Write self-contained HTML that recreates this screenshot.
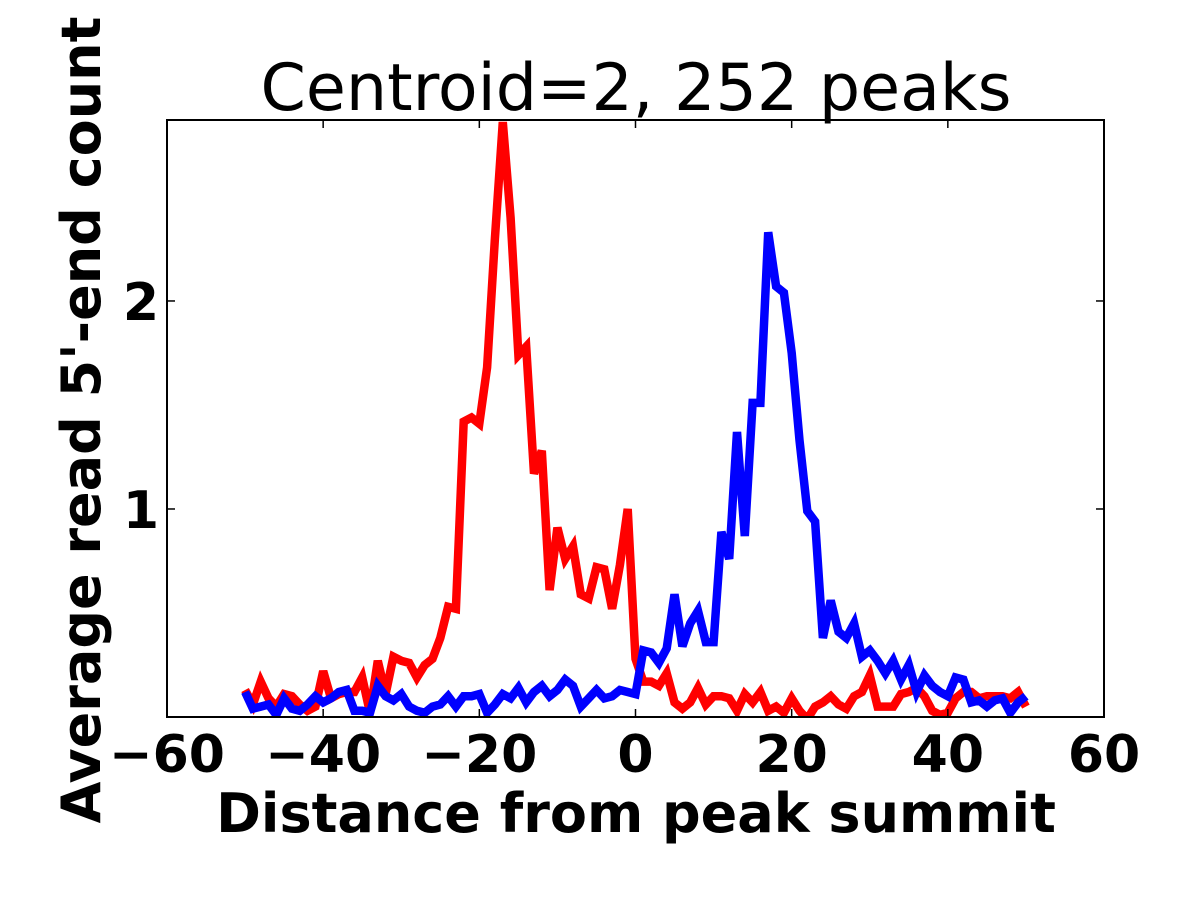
<!DOCTYPE html>
<html><head><meta charset="utf-8"><style>
html,body{margin:0;padding:0;background:#fff;}
svg{display:block;font-family:"DejaVu Sans","Liberation Sans",sans-serif;}
</style></head><body>
<svg id="chart" width="1200" height="900" viewBox="0 0 1200 900" xmlns="http://www.w3.org/2000/svg">
<text x="636" y="110" text-anchor="middle" font-size="65">Centroid=2, 252 peaks</text>
<g id="plot"></g>
<rect x="167" y="120" width="937" height="597" fill="none" stroke="#000" stroke-width="2"/>
<g id="ticks"></g>
<text x="636" y="832" text-anchor="middle" font-size="54" font-weight="bold">Distance from peak summit</text>
<text transform="translate(100,420) rotate(-90)" text-anchor="middle" font-size="54" font-weight="bold">Average read 5'-end count</text>
</svg>
<script>
const xTicks = [-60,-40,-20,0,20,40,60];
const yTicks = [1,2];
const redValues = [0.13,0.06,0.17,0.09,0.05,0.11,0.10,0.06,0.03,0.05,0.22,0.09,0.11,0.12,0.12,0.19,0.02,0.27,0.11,0.29,0.27,0.26,0.19,0.25,0.28,0.38,0.53,0.52,1.42,1.44,1.41,1.68,2.3,2.86,2.4,1.74,1.78,1.17,1.28,0.61,0.91,0.76,0.82,0.59,0.57,0.72,0.71,0.52,0.73,1.0,0.28,0.17,0.17,0.15,0.21,0.07,0.04,0.07,0.14,0.06,0.10,0.10,0.09,0.03,0.11,0.07,0.12,0.03,0.05,0.02,0.09,0.03,-0.01,0.05,0.07,0.10,0.06,0.04,0.10,0.12,0.20,0.05,0.05,0.05,0.11,0.12,0.14,0.10,0.03,0.01,0.02,0.09,0.12,0.12,0.09,0.10,0.10,0.10,0.09,0.12,0.05];
const blueValues = [0.12,0.04,0.05,0.06,0.01,0.09,0.04,0.03,0.06,0.10,0.07,0.09,0.12,0.13,0.03,0.03,0.02,0.15,0.10,0.08,0.11,0.05,0.03,0.02,0.05,0.06,0.10,0.05,0.10,0.10,0.11,0.02,0.06,0.11,0.09,0.14,0.07,0.12,0.15,0.10,0.13,0.18,0.15,0.05,0.09,0.13,0.09,0.10,0.13,0.12,0.11,0.32,0.31,0.26,0.33,0.59,0.34,0.45,0.51,0.36,0.36,0.89,0.76,1.37,0.87,1.51,1.51,2.33,2.07,2.04,1.75,1.33,0.99,0.94,0.38,0.56,0.41,0.38,0.45,0.29,0.32,0.27,0.21,0.27,0.18,0.25,0.12,0.20,0.15,0.12,0.10,0.19,0.18,0.07,0.08,0.05,0.08,0.09,0.02,0.07,0.10];
const xStart = -50;
const NS='http://www.w3.org/2000/svg';
const L=167,R=1104,T=120,B=717,xMin=-60,xMax=60,yMin=0,yMax=2.87;
const xs=v=>L+(v-xMin)/(xMax-xMin)*(R-L);
const ys=v=>B-(v-yMin)/(yMax-yMin)*(B-T);
const plot=document.getElementById('plot');
const clip=document.createElementNS(NS,'clipPath');clip.setAttribute('id','cp');
const cr=document.createElementNS(NS,'rect');cr.setAttribute('x',L);cr.setAttribute('y',T);cr.setAttribute('width',R-L);cr.setAttribute('height',B-T);
clip.appendChild(cr);plot.appendChild(clip);
function line(vals,color,name){
  const p=document.createElementNS(NS,'polyline');
  p.setAttribute('points',vals.map((v,i)=>xs(xStart+i).toFixed(1)+','+ys(v).toFixed(1)).join(' '));
  p.setAttribute('fill','none');p.setAttribute('stroke',color);p.setAttribute('stroke-width','8.5');
  p.setAttribute('stroke-linejoin','miter');p.setAttribute('clip-path','url(#cp)');
  
  
  plot.appendChild(p);
}
line(redValues,'#ff0000','red-series-line');
line(blueValues,'#0000ff','blue-series-line');
const tg=document.getElementById('ticks');
function seg(x1,y1,x2,y2){const l=document.createElementNS(NS,'line');l.setAttribute('x1',x1);l.setAttribute('y1',y1);l.setAttribute('x2',x2);l.setAttribute('y2',y2);l.setAttribute('stroke','#000');l.setAttribute('stroke-width','1.5');

tg.appendChild(l);}
xTicks.forEach(t=>{
  const x=xs(t);seg(x,B,x,B-8);seg(x,T,x,T+8);
  const tx=document.createElementNS(NS,'text');tx.setAttribute('x',x);tx.setAttribute('y',B+55);
  tx.setAttribute('text-anchor','middle');tx.setAttribute('font-size','52');tx.setAttribute('font-weight','bold');
  tx.textContent=String(t).replace('-','\u2212');
  
  
  tg.appendChild(tx);
});
yTicks.forEach(t=>{
  const y=ys(t);seg(L,y,L+8,y);seg(R,y,R-8,y);
  const tx=document.createElementNS(NS,'text');tx.setAttribute('x',L-8);tx.setAttribute('y',y+19);
  tx.setAttribute('text-anchor','end');tx.setAttribute('font-size','52');tx.setAttribute('font-weight','bold');
  tx.textContent=String(t);
  
  
  tg.appendChild(tx);
});
</script>
</body></html>
